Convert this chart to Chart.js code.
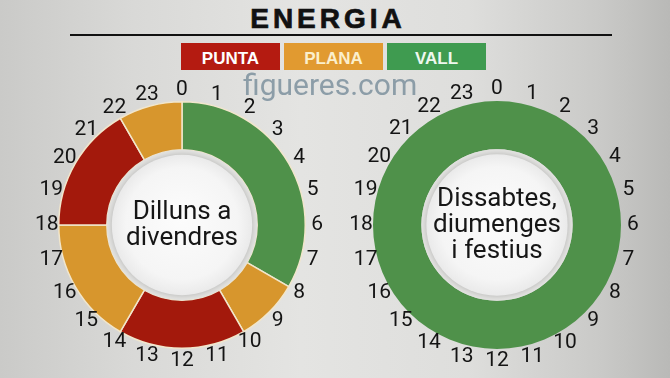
<!DOCTYPE html>
<html>
<head>
<meta charset="utf-8">
<script src="https://cdn.jsdelivr.net/npm/chart.js@4.4.0/dist/chart.umd.min.js"></script>
<style>
html, body { margin: 0; padding: 0; }
body {
    width: 670px; height: 378px; overflow: hidden; position: relative;
    background: linear-gradient(90deg, #cacac8 0%, #d9d9d7 20%, #e4e4e2 45%, #dededc 70%, #c9c9c7 90%, #b9b9b7 100%);
    font-family: Roboto, "Liberation Sans", sans-serif;
}
#title {
    position: absolute; left: 0; width: 656px; top: 3px; text-align: center;
    font: bold 28px "Liberation Sans", Arial, sans-serif; letter-spacing: 4px; color: #111;
    -webkit-text-stroke: 0.7px #111;
}
#rule { position: absolute; left: 70px; width: 542px; top: 34px; height: 2px; background: #111; }
#legend div {
    position: absolute; top: 43px; width: 99px; height: 27px; text-align: center; overflow: hidden;
    font: bold 17px/17px "Liberation Sans", Arial, sans-serif; box-sizing: border-box; padding-top: 7px;
}
#mark {
    position: absolute; left: 243px; top: 70px; font-size: 30px; line-height: 30px;
    color: rgba(125, 145, 158, 0.85); z-index: 5;
}
canvas { position: absolute; top: 75px; }
#weekday { left: 32px; }
#weekend { left: 347px; }
</style>
</head>
<body>
<div id="title">ENERGIA</div>
<div id="rule"></div>
<div id="legend"></div>
<div id="mark">figueres.com</div>
<canvas id="weekday" width="300" height="300"></canvas>
<canvas id="weekend" width="300" height="300"></canvas>
<script>
// franges horàries
const hourLabels = ['0', '1', '2', '3', '4', '5', '6', '7', '8', '9', '10', '11',
                    '12', '13', '14', '15', '16', '17', '18', '19', '20', '21', '22', '23'];
const tariffNames = ['PUNTA', 'PLANA', 'VALL'];
const tariffColors = ['#a3190c', '#d7962d', '#4f914a'];
const legendColors = ['#b41b11', '#e19a30', '#3f9b50'];
const legendTextColors = ['#ffffff', '#fbefcc', '#eef8ee'];

const weekdayHours = [8, 2, 4, 4, 4, 2];
const weekdayTariff = ['VALL', 'PLANA', 'PUNTA', 'PLANA', 'PUNTA', 'PLANA'];
const weekendHours = [24];
const weekendTariff = ['VALL'];

const weekdayText = ['Dilluns a', 'divendres'];
const weekendText = ['Dissabtes,', 'diumenges', 'i festius'];

// llegenda
const legend = document.getElementById('legend');
const legendLeft = [181, 284, 387];
tariffNames.forEach((name, i) => {
    const box = document.createElement('div');
    box.textContent = name;
    box.style.left = legendLeft[i] + 'px';
    box.style.background = legendColors[i];
    box.style.color = legendTextColors[i];
    legend.appendChild(box);
});

// rellotge: forat central, text i hores
const clockPlugin = {
    id: 'clock',
    afterDatasetsDraw(chart, args, opts) {
        const arc = chart.getDatasetMeta(0).data[0];
        const { x, y, innerRadius, outerRadius } = arc.getProps(['x', 'y', 'innerRadius', 'outerRadius'], true);
        const ctx = chart.ctx;
        ctx.save();

        ctx.beginPath();
        ctx.arc(x, y, innerRadius, 0, Math.PI * 2);
        ctx.fillStyle = '#e4e4e2';
        ctx.fill();

        ctx.shadowColor = 'rgba(0, 0, 0, 0.22)';
        ctx.shadowBlur = 6;
        const r = innerRadius - 5;
        const g = ctx.createRadialGradient(x, y - 8, 0, x, y, r);
        g.addColorStop(0, '#fcfcfc');
        g.addColorStop(0.8, '#f5f5f5');
        g.addColorStop(1, '#eaeaea');
        ctx.beginPath();
        ctx.arc(x, y, r, 0, Math.PI * 2);
        ctx.fillStyle = g;
        ctx.fill();
        ctx.shadowColor = 'transparent';

        // text central
        ctx.fillStyle = '#161616';
        ctx.font = '26px Roboto';
        ctx.textAlign = 'center';
        ctx.textBaseline = 'middle';
        const lines = opts.text;
        const lh = 26;
        lines.forEach((t, i) => {
            ctx.fillText(t, x, y + (i - (lines.length - 1) / 2) * lh);
        });

        // hores
        const total = chart.data.datasets[0].data.reduce((a, b) => a + b, 0);
        ctx.font = '21px Roboto';
        ctx.fillStyle = '#141414';
        const lr = outerRadius + 12;
        hourLabels.forEach((lab, h) => {
            const a = -Math.PI / 2 + (h / total) * Math.PI * 2;
            ctx.fillText(lab, x + Math.cos(a) * lr, y + Math.sin(a) * lr);
        });
        ctx.restore();
    }
};

function createClock(id, hours, tariff, text, border, borderWidth) {
    const ctx = document.getElementById(id).getContext('2d');
    new Chart(ctx, {
        type: 'doughnut',
        data: {
            labels: tariff,
            datasets: [{
                data: hours,
                backgroundColor: tariff.map(t => tariffColors[tariffNames.indexOf(t)]),
                borderColor: border,
                borderWidth: borderWidth,
            }]
        },
        options: {
            responsive: false,
            animation: false,
            cutout: '61%',
            layout: { padding: 26 },
            plugins: {
                legend: { display: false },
                tooltip: { enabled: false },
                clock: { text: text }
            }
        },
        plugins: [clockPlugin]
    });
}

createClock('weekday', weekdayHours, weekdayTariff, weekdayText, '#f1e6cc', 1.5);
createClock('weekend', weekendHours, weekendTariff, weekendText, '#4f914a', 0);
</script>
</body>
</html>
